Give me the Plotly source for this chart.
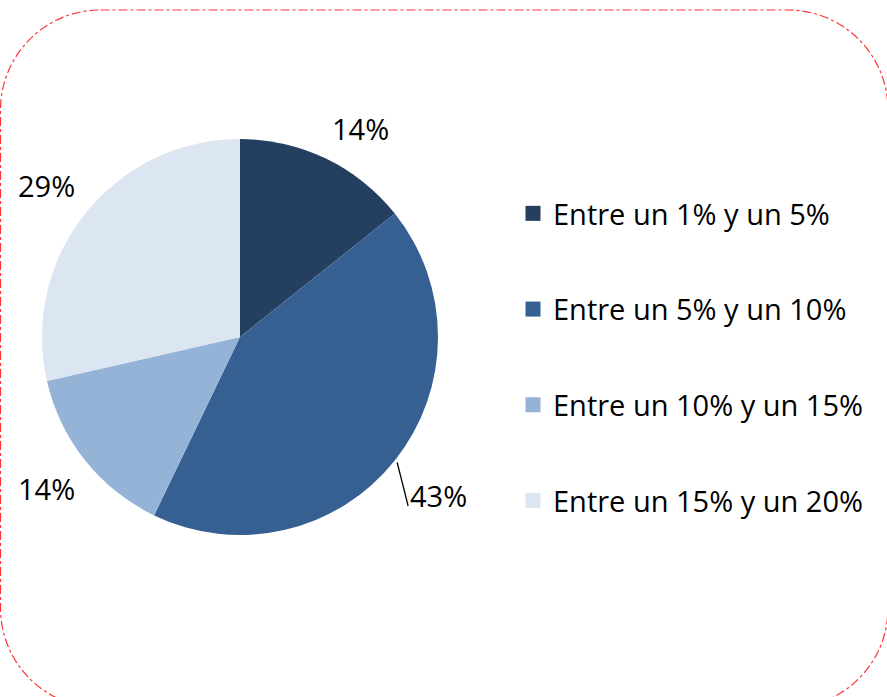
import math
import plotly.graph_objects as go

categories = ["Entre un 1% y un 5%", "Entre un 5% y un 10%",
              "Entre un 10% y un 15%", "Entre un 15% y un 20%"]
values = [1, 3, 1, 2]
colors = ["#243F60", "#366092", "#95B3D7", "#DCE6F2"]
leader = [False, True, False, False]   # label moved out with a leader line

W, H = 887, 697
FONT = "Open Sans"
CX, CY, R = 240, 337, 198          # pie centre / radius in pixels
LABEL_GAP = 10                     # px between pie edge and label corner
LEADER_DIST = 1.28

fig = go.Figure()
fig.add_trace(go.Pie(
    labels=categories, values=values, sort=False, direction="clockwise",
    rotation=0, marker=dict(colors=colors, line=dict(width=0)),
    textinfo="none", showlegend=False, hoverinfo="label+percent",
    domain=dict(x=[(CX - R) / W, (CX + R) / W],
                y=[(H - CY - R) / H, (H - CY + R) / H]),
))

for i, (cat, col) in enumerate(zip(categories, colors)):
    fig.add_trace(go.Scatter(
        x=[None], y=[None], mode="markers", name=cat,
        marker=dict(symbol="square", size=15, color=col),
        legendgroup=f"g{i}", showlegend=True))


def to_paper(x, y):
    return x / W, 1 - y / H


# percentage labels placed outside each slice (from the data)
total = sum(values)
cum = 0
for v, lead in zip(values, leader):
    mid = 2 * math.pi * (cum + v / 2) / total
    cum += v
    dx, dy = math.sin(mid), -math.cos(mid)
    label = f"{round(100 * v / total)}%"
    font = dict(family=FONT, size=29, color="#000000")
    if lead:
        d = R * LEADER_DIST
        lx, ly = CX + d * dx, CY + d * dy
        px, py = to_paper(lx, ly)
        fig.add_annotation(x=px, y=py, xref="paper", yref="paper",
                           text=label, showarrow=False, font=font,
                           xanchor="center", yanchor="middle")
        sx, sy = CX + (R + 3) * dx, CY + (R + 3) * dy
        ex, ey = lx - 30, ly + 11
        a, b = to_paper(sx, sy)
        c, e = to_paper(ex, ey)
        fig.add_shape(type="line", x0=a, y0=b, x1=c, y1=e,
                      xref="paper", yref="paper",
                      line=dict(color="#000000", width=1.3))
    else:
        d = R + LABEL_GAP
        lx, ly = CX + d * dx, CY + d * dy
        px, py = to_paper(lx, ly)
        fig.add_annotation(x=px, y=py, xref="paper", yref="paper",
                           text=label, showarrow=False, font=font,
                           xanchor="left" if dx > 0 else "right",
                           yanchor="bottom" if dy < 0 else "top")

# rounded dash-dot border
x0, x1, y0, y1, r = 0.5, 888, 10, 708, 100
k = 0.5523 * r


def P(x, y):
    px, py = to_paper(x, y)
    return f"{px:.5f},{py:.5f}"


path = (f"M {P(x0 + r, y0)} L {P(x1 - r, y0)} "
        f"C {P(x1 - r + k, y0)} {P(x1, y0 + r - k)} {P(x1, y0 + r)} "
        f"L {P(x1, y1 - r)} "
        f"C {P(x1, y1 - r + k)} {P(x1 - r + k, y1)} {P(x1 - r, y1)} "
        f"L {P(x0 + r, y1)} "
        f"C {P(x0 + r - k, y1)} {P(x0, y1 - r + k)} {P(x0, y1 - r)} "
        f"L {P(x0, y0 + r)} "
        f"C {P(x0, y0 + r - k)} {P(x0 + r - k, y0)} {P(x0 + r, y0)} Z")
fig.add_shape(type="path", path=path, xref="paper", yref="paper",
              line=dict(color="#FF3333", width=1.2, dash="dashdot"))

fig.update_layout(
    width=W, height=H, margin=dict(l=0, r=0, t=0, b=0),
    paper_bgcolor="white", plot_bgcolor="white",
    xaxis=dict(visible=False), yaxis=dict(visible=False),
    legend=dict(x=513 / W, xanchor="left", y=1 - 188 / H, yanchor="top",
                font=dict(family=FONT, size=29, color="#000000"),
                tracegroupgap=55, itemclick=False, itemdoubleclick=False),
    font=dict(family=FONT),
)

fig.write_html("out.html", config={"displayModeBar": False},
               post_script="document.body.style.margin='0px';"
                           "document.body.style.overflow='hidden';")
